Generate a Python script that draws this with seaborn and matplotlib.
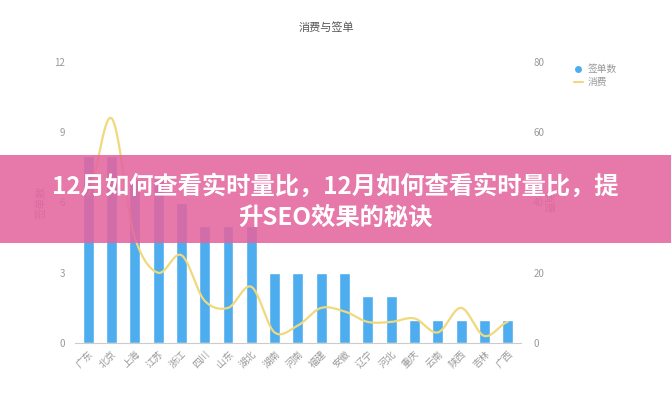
import numpy as np
import pandas as pd
import matplotlib
matplotlib.use("Agg")
import matplotlib.pyplot as plt
import seaborn as sns
from matplotlib.patches import Rectangle

provinces = ["广东", "北京", "上海", "江苏", "浙江", "四川", "山东", "湖北", "湖南", "河南",
             "福建", "安徽", "辽宁", "河北", "重庆", "云南", "陕西", "吉林", "广西"]
orders = [8, 8, 7, 7, 6, 5, 5, 5, 3, 3, 3, 3, 2, 2, 1, 1, 1, 1, 1]
spend = [42, 64, 30, 20, 25, 12, 10, 16, 3, 5, 10, 9, 6, 6, 7, 3, 10, 2, 6]
left_ticks = [0, 3, 6, 9, 12]
right_ticks = [0, 20, 40, 60, 80]

sns.set_theme(style="white")
plt.rcParams['font.family'] = ['Noto Sans CJK SC', 'DejaVu Sans']

bar_color = "#4dadee"
line_color = "#f0d97c"
text_gray = "#999999"

fig = plt.figure(figsize=(6.71, 4.0), dpi=100)
ax = fig.add_axes([0.112, 0.1425, 0.664, 0.7025])

df = pd.DataFrame({"省份": provinces, "签单数": orders, "消费": spend})
sns.barplot(data=df, x="省份", y="签单数", color=bar_color, width=0.47,
            saturation=1, ax=ax, zorder=2)
ax.set_xlim(-0.56, len(provinces) - 0.44)
ax.set_ylim(0, 12)
ax.set_yticks(left_ticks)
ax.set_yticklabels([str(t) for t in left_ticks], color=text_gray, fontsize=7)
ax.set_xticks(range(len(provinces)))
ax.set_xticklabels(provinces, rotation=45, ha="right", rotation_mode="anchor",
                   color=text_gray, fontsize=7)
ax.set_xlabel("")
ax.set_ylabel("签单数", color=text_gray, fontsize=8, labelpad=6)
ax.tick_params(axis="y", length=0, pad=7)
ax.tick_params(axis="x", length=0, pad=4)
for s in ["top", "right", "left"]:
    ax.spines[s].set_visible(False)
ax.spines["bottom"].set_color("#cccccc")
ax.spines["bottom"].set_linewidth(0.8)

ax2 = ax.twinx()
# smooth curve through data points (Catmull-Rom style, like echarts smooth)
x = np.arange(len(spend), dtype=float)
y = np.array(spend, dtype=float)
xs, ys = [], []
for i in range(len(x) - 1):
    p0 = y[i - 1] if i > 0 else y[i]
    p1, p2 = y[i], y[i + 1]
    p3 = y[i + 2] if i + 2 < len(y) else y[i + 1]
    m1 = (p2 - p0) / 2 * 0.9
    m2 = (p3 - p1) / 2 * 0.9
    t = np.linspace(0, 1, 30)
    h00 = 2 * t**3 - 3 * t**2 + 1
    h10 = t**3 - 2 * t**2 + t
    h01 = -2 * t**3 + 3 * t**2
    h11 = t**3 - t**2
    xs.extend(x[i] + t)
    ys.extend(h00 * p1 + h10 * m1 + h01 * p2 + h11 * m2)
ax2.plot(xs, ys, color=line_color, linewidth=1.6, zorder=3)
ax2.set_ylim(0, 80)
ax2.set_yticks(right_ticks)
ax2.set_yticklabels([str(t) for t in right_ticks], color=text_gray, fontsize=7)
ax2.set_ylabel("消费", color=text_gray, fontsize=8, rotation=270, labelpad=6)
ax2.tick_params(axis="y", length=0, pad=9)
for s in ["top", "right", "left", "bottom"]:
    ax2.spines[s].set_visible(False)
ax2.grid(False)
ax.grid(False)

fig.text(0.487, 0.932, "消费与签单", ha="center", va="center", fontsize=8, color="#555555")

# legend
fig.add_artist(plt.Line2D([0.862], [0.828], marker="o", markersize=4, color=bar_color,
                          linestyle="none", transform=fig.transFigure))
fig.add_artist(plt.Line2D([0.855, 0.869], [0.795, 0.795], color=line_color, linewidth=1.5,
                          transform=fig.transFigure))
fig.text(0.876, 0.828, "签单数", ha="left", va="center", fontsize=7, color=text_gray)
fig.text(0.876, 0.795, "消费", ha="left", va="center", fontsize=7, color=text_gray)

# banner overlay
fig.add_artist(Rectangle((0, 1 - 243 / 400), 1, 88 / 400, transform=fig.transFigure,
                         facecolor="#e4659f", alpha=0.88, edgecolor="none", zorder=10))
fig.text(0.5, 1 - 186 / 400, "12月如何查看实时量比，12月如何查看实时量比，提", ha="center",
         va="center", fontsize=17.5, fontweight="bold", color="white", zorder=11)
fig.text(0.5, 1 - 218 / 400, "升SEO效果的秘诀", ha="center", va="center", fontsize=17.5,
         fontweight="bold", color="white", zorder=11)

fig.savefig("out.png", dpi=100)
